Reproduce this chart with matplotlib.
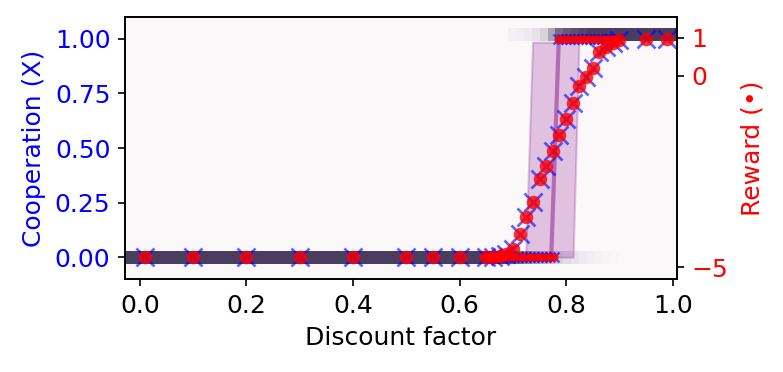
import matplotlib
matplotlib.use("Agg")
import matplotlib.pyplot as plt
from matplotlib.colors import LinearSegmentedColormap
import numpy as np

plt.rcParams['font.size'] = 12

# Coarse grid (discount factor) with cooperation of the smooth model
coarse_x = [0.01, 0.1, 0.2, 0.3, 0.4, 0.5, 0.55, 0.6,
            0.65, 0.6625, 0.675, 0.6875, 0.7, 0.7125, 0.725, 0.7375, 0.75,
            0.7625, 0.775, 0.7875, 0.8, 0.8125, 0.825, 0.8375, 0.85, 0.8625,
            0.875, 0.8875, 0.9, 0.95, 0.99]
coarse_coop = [0.0, 0.0, 0.0, 0.0, 0.0, 0.0, 0.0, 0.0,
               0.0, 0.002, 0.006, 0.015, 0.036, 0.105, 0.184, 0.253, 0.356,
               0.42, 0.486, 0.562, 0.635, 0.706, 0.785, 0.826, 0.869, 0.939,
               0.962, 0.983, 0.995, 1.0, 1.0]

# Fine grid around the threshold (step behaviour)
fine_x = [0.65, 0.6575, 0.665, 0.6725, 0.68, 0.6875, 0.695, 0.7025, 0.71,
          0.7175, 0.725, 0.7325, 0.74, 0.7475, 0.755, 0.7625, 0.77, 0.7775,
          0.785, 0.7925, 0.8, 0.8075, 0.815, 0.8225, 0.83, 0.8375, 0.845,
          0.8525, 0.86, 0.8675, 0.875, 0.8825, 0.89, 0.8975]
fine_coop = [0.0] * 18 + [1.0] * 16

# Threshold band (mean and spread) at cooperation 0 and 1
band_y = [0.0, 0.985]
band_lo = [0.724, 0.737]
band_mid = [0.772, 0.786]
band_hi = [0.813, 0.824]

# Density of trajectories (background heat map)
heat_x_edges = [-0.03, 0.69, 0.705, 0.72, 0.735, 0.75, 0.765, 0.78, 0.795,
                0.81, 0.825, 0.84, 0.855, 0.87, 0.885, 0.9, 1.02]
heat_y_edges = [-0.1, -0.03, 0.03, 0.99, 1.05, 1.1]
low_density = [1.0, 0.85, 0.75, 0.62, 0.5, 0.4, 0.3, 0.2, 0.15, 0.11, 0.08,
               0.06, 0.04, 0.025, 0.012, 0.0]
high_density = [0.0, 0.04, 0.06, 0.08, 0.12, 0.2, 0.45, 0.75, 0.85, 0.9,
                 0.95, 1.0, 1.0, 1.0, 1.0, 1.0]

reward_ticks = [-5, 0, 1]

fig = plt.figure(figsize=(5.22, 2.48), dpi=150)
ax = fig.add_axes([0.1596, 0.25, 0.705, 0.704])

cmap = LinearSegmentedColormap.from_list('dens', ['#fbf8fa', '#4b3d60'])
zero_row = [0.0] * len(low_density)
heat = np.array([zero_row, low_density, zero_row, high_density, zero_row])
ax.pcolormesh(heat_x_edges, heat_y_edges, heat, cmap=cmap, vmin=0, vmax=1,
              zorder=0)

ax.fill_betweenx(band_y, band_lo, band_hi, color='purple', alpha=0.22,
                 linewidth=1, zorder=1)
ax.plot(band_mid, band_y, color='purple', alpha=0.45, lw=2, zorder=2)

ax.plot(fine_x, fine_coop, 'x', color='blue', alpha=0.6, ms=5, mew=1.2,
        zorder=3)
ax.plot(fine_x, fine_coop, 'o', color='red', alpha=0.8, ms=4, mew=0,
        zorder=4)
ax.plot(coarse_x, coarse_coop, 'x', color='blue', alpha=0.6, ms=9, mew=1.3,
        zorder=3)
ax.plot(coarse_x, coarse_coop, 'o', color='red', alpha=0.8, ms=6.5, mew=0,
        zorder=4)

ax.set_xlim(-0.028, 1.008)
ax.set_ylim(-0.1, 1.1)
ax.set_yticks([0, 0.25, 0.5, 0.75, 1.0])
ax.set_xlabel('Discount factor')
ax.set_ylabel('Cooperation (X)', color='blue')
ax.tick_params(axis='y', colors='black', labelcolor='blue')

ax2 = ax.twinx()
ax2.set_ylim(-5.31, 1.54)
ax2.set_yticks(reward_ticks)
ax2.set_ylabel('Reward (•)', color='red', labelpad=6)
ax2.tick_params(axis='y', labelcolor='red')

fig.savefig('out.png', dpi=150)
